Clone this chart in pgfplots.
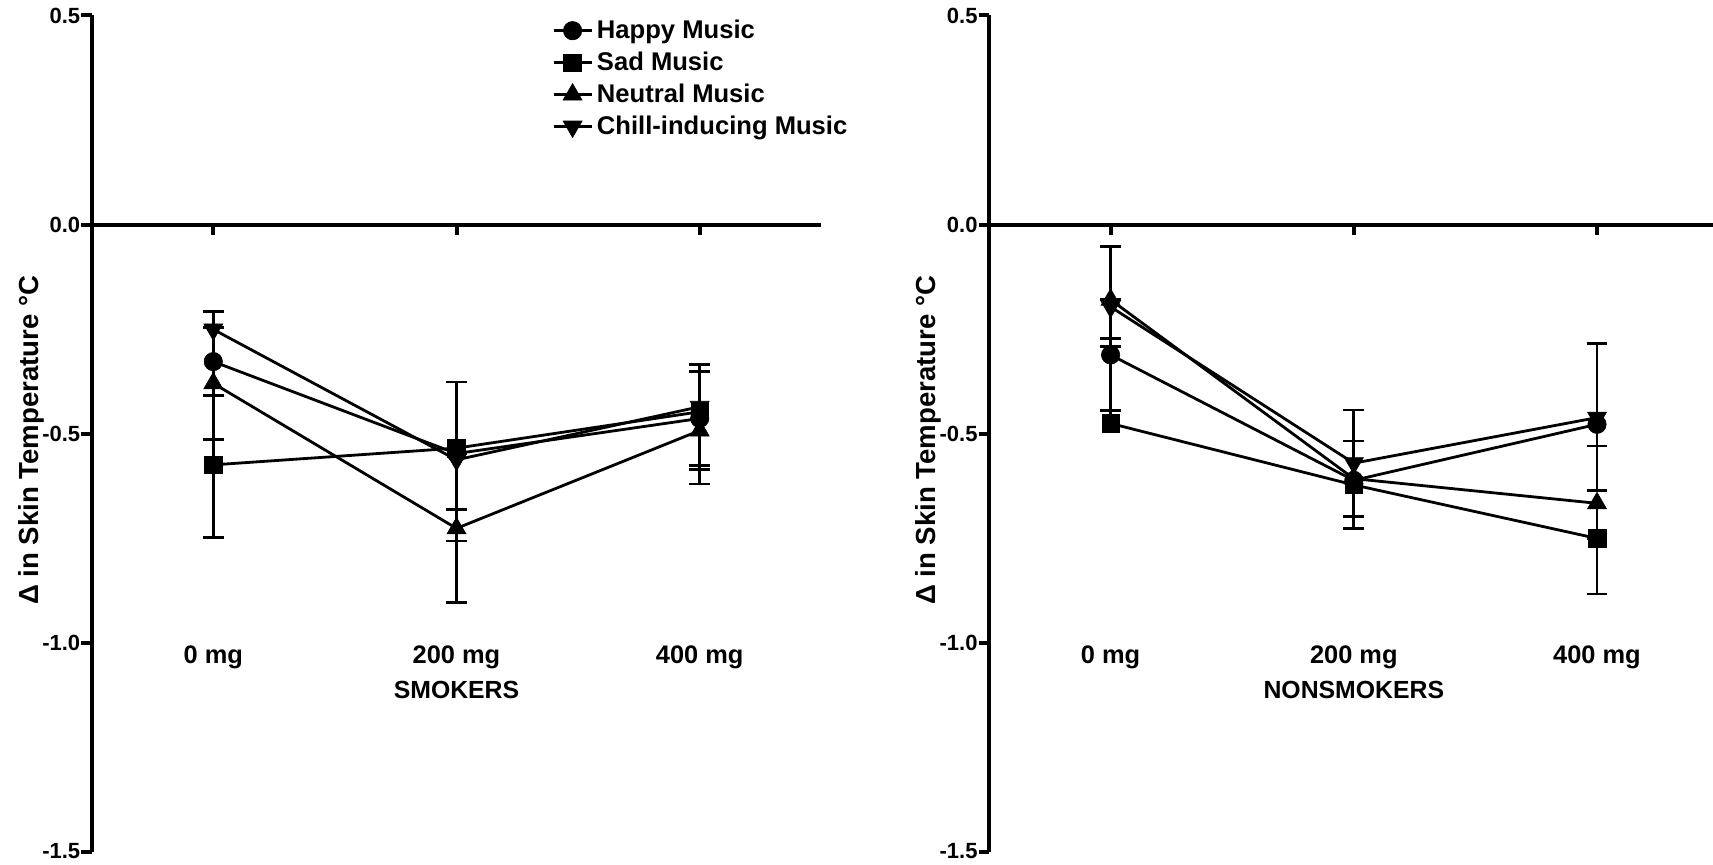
\documentclass[border=0pt]{standalone}
\usepackage{fontspec}
\setmainfont{Liberation Sans}
\usepackage{pgfplots}
\pgfplotsset{compat=1.18}

\pgfplotsset{
  panel/.style={
    scale only axis,
    height=418pt,
    xmin=-0.5,
    ymin=-1.5, ymax=0.5,
    axis x line=middle,
    axis y line=left,
    axis line style={-, line width=2pt, black},
    every inner x axis line/.append style={-},
    every outer y axis line/.append style={-},
    xtick={0,1,2},
    xticklabels={0 mg,200 mg,400 mg},
    ytick={-1.5,-1,-0.5,0,0.5},
    tick align=outside,
    major tick length=5.2pt,
    tick style={line width=2pt, black},
    yticklabel style={font=\bfseries\fontsize{11}{13}\selectfont, xshift=3pt,
      /pgf/number format/.cd, fixed, fixed zerofill, precision=1,
      assume math mode=true},
    xticklabel style={font=\bfseries\fontsize{12.7}{15}\selectfont,
      anchor=base, yshift=-214.25pt},
    xlabel style={font=\bfseries\fontsize{12.4}{15}\selectfont, anchor=base},
    ylabel={Δ in Skin Temperature \textdegree C},
    ylabel style={font=\bfseries\fontsize{13.8}{16}\selectfont, anchor=center},
    clip=false,
    legend image code/.code={%
      \draw[mark repeat=2, mark phase=2, #1]
        plot coordinates {(0pt,0pt) (9.5pt,0pt) (19pt,0pt)};},
  },
  series/.style={black, line width=1.4pt,
    mark options={solid, fill=black, line width=0.3pt}},
  happy/.style={series, mark=*, mark size=4.6pt},
  sad/.style={series, mark=square*, mark size=4.4pt},
  neutral/.style={series, mark=triangle*, mark size=5.5pt},
  chill/.style={series, mark=triangle*, mark size=5.5pt,
    mark options={solid, fill=black, line width=0.3pt, rotate=180}},
  ebar/.style={forget plot, only marks, mark=none,
    error bars/.cd, y dir=#1, y explicit, error mark=|,
    error bar style={line width=1.4pt, black},
    error mark options={line width=1.4pt, mark size=5.2pt, black}},
}

\begin{document}
\begin{tikzpicture}
\useasboundingbox (0,0) rectangle (856.5pt,432pt);

% ---------------- Smokers ----------------
\begin{axis}[panel,
  at={(45.85pt,6.25pt)}, anchor=south west,
  width=364.8pt, xmax=2.5,
  xlabel={SMOKERS},
  xlabel style={at={(axis description cs:0.5,0.1825)}},
  ylabel style={at={(axis description cs:-0.0831,0.492)}},
  legend style={at={(axis description cs:0.6306,1.0)}, anchor=north west,
    draw=none, fill=none, inner sep=0pt,
    font=\bfseries\fontsize{12.8}{14}\selectfont,
    row sep=1.2pt, cells={anchor=west}},
]
% upward error bars
\addplot[ebar=plus] coordinates {
  (0,-0.328) +- (0,0.081)  (2,-0.464) +- (0,0.112)
  (0,-0.575) +- (0,0.166)
  (0,-0.380) +- (0,0.134)  (1,-0.727) +- (0,0.178)
  (0,-0.251) +- (0,0.042)  (1,-0.563) +- (0,0.186)  (2,-0.436) +- (0,0.102)
};
% downward error bars
\addplot[ebar=minus] coordinates {
  (0,-0.328) +- (0,0.081)  (2,-0.464) +- (0,0.112)
  (0,-0.575) +- (0,0.174)  (1,-0.535) +- (0,0.146)
  (0,-0.380) +- (0,0.134)  (1,-0.727) +- (0,0.178)  (2,-0.493) +- (0,0.128)
  (1,-0.563) +- (0,0.194)  (2,-0.436) +- (0,0.151)
};
\addplot[happy]   coordinates {(0,-0.328) (1,-0.548) (2,-0.464)};
\addplot[sad]     coordinates {(0,-0.575) (1,-0.535) (2,-0.448)};
\addplot[neutral] coordinates {(0,-0.380) (1,-0.727) (2,-0.493)};
\addplot[chill]   coordinates {(0,-0.251) (1,-0.563) (2,-0.436)};
\legend{Happy Music, Sad Music, Neutral Music, Chill-inducing Music}
\end{axis}

% ---------------- Nonsmokers ----------------
\begin{axis}[panel,
  at={(494.5pt,6.25pt)}, anchor=south west,
  width=362pt, xmax=2.477,
  xlabel={NONSMOKERS},
  xlabel style={at={(axis cs:1,-1.135)}},
  ylabel style={at={(axis description cs:-0.0837,0.492)}},
]
\addplot[ebar=plus] coordinates {
  (0,-0.312) +- (0,0.133)
  (0,-0.476) +- (0,0.031)  (1,-0.623) +- (0,0.105)
  (0,-0.180) +- (0,0.127)
  (1,-0.571) +- (0,0.127)  (2,-0.462) +- (0,0.178)
};
\addplot[ebar=minus] coordinates {
  (0,-0.312) +- (0,0.133)  (2,-0.478) +- (0,0.052)
  (1,-0.623) +- (0,0.105)  (2,-0.751) +- (0,0.133)
  (0,-0.180) +- (0,0.111)  (2,-0.667) +- (0,0.085)
  (0,-0.197) +- (0,0.075)  (1,-0.571) +- (0,0.127)  (2,-0.462) +- (0,0.174)
};
\addplot[happy]   coordinates {(0,-0.312) (1,-0.612) (2,-0.478)};
\addplot[sad]     coordinates {(0,-0.476) (1,-0.623) (2,-0.751)};
\addplot[neutral] coordinates {(0,-0.180) (1,-0.608) (2,-0.667)};
\addplot[chill]   coordinates {(0,-0.197) (1,-0.571) (2,-0.462)};
\end{axis}
\end{tikzpicture}
\end{document}
